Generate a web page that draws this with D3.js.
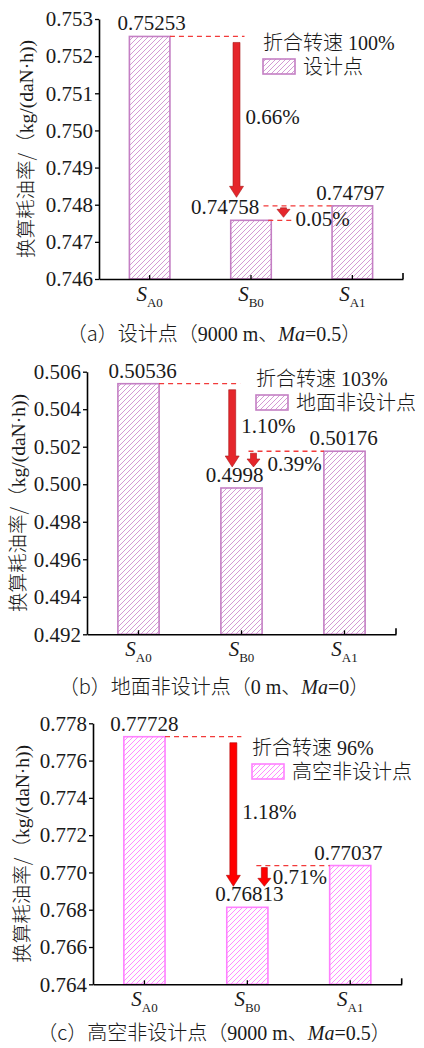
<!DOCTYPE html>
<html>
<head>
<meta charset="utf-8">
<script src="https://cdn.jsdelivr.net/npm/d3@7"></script>
<style>
  body { margin: 0; background: #fff; }
  svg text { font-family: "Liberation Serif", "Times New Roman", "DejaVu Serif", "Noto Sans CJK SC", serif; fill: #1a1a1a; }
  svg .cjk { font-family: "Noto Sans CJK SC", sans-serif; font-weight: 300; }
</style>
</head>
<body>
<script>
const categories = ['A0', 'B0', 'A1']

// panel (a) design point
const valuesA = [0.75253, 0.74758, 0.74797]
const ticksA = [0.746, 0.747, 0.748, 0.749, 0.750, 0.751, 0.752, 0.753]
const dropsA = ['0.66%', '0.05%']
const speedA = ['折合转速', ' 100%']
const legendA = '设计点'
const captionA = ['（a）设计点（', '9000 m', '、', 'Ma', '=0.5', '）']

// panel (b) ground off-design point
const valuesB = [0.50536, 0.4998, 0.50176]
const ticksB = [0.492, 0.494, 0.496, 0.498, 0.500, 0.502, 0.504, 0.506]
const dropsB = ['1.10%', '0.39%']
const speedB = ['折合转速', ' 103%']
const legendB = '地面非设计点'
const captionB = ['（b）地面非设计点（', '0 m', '、', 'Ma', '=0', '）']

// panel (c) altitude off-design point
const valuesC = [0.77728, 0.76813, 0.77037]
const ticksC = [0.764, 0.766, 0.768, 0.770, 0.772, 0.774, 0.776, 0.778]
const dropsC = ['1.18%', '0.71%']
const speedC = ['折合转速', ' 96%']
const legendC = '高空非设计点'
const captionC = ['（c）高空非设计点（', '9000 m', '、', 'Ma', '=0.5', '）']

const yTitle = ['换算耗油率/（', 'kg/(daN·h))']

const width = 424
const height = 1048

const svg = d3.select('body')
  .append('svg')
  .attr('width', width)
  .attr('height', height)

svg.append('rect').attr('width', width).attr('height', height).attr('fill', '#fff')

const defs = svg.append('defs')

function hatch (id, color) {
  const p = defs.append('pattern')
    .attr('id', id)
    .attr('patternUnits', 'userSpaceOnUse')
    .attr('width', 5)
    .attr('height', 5)
  p.append('path')
    .attr('d', 'M-1,1 l2,-2 M0,5 l5,-5 M4,6 l2,-2')
    .attr('stroke', color)
    .attr('stroke-width', 1)
}

function arrowPath (xc, y0, y1, shaftW, headW, headL) {
  const yh = y1 - headL
  return `M${xc - shaftW / 2},${y0} L${xc + shaftW / 2},${y0} L${xc + shaftW / 2},${yh} ` +
    `L${xc + headW / 2},${yh} L${xc},${y1} L${xc - headW / 2},${yh} L${xc - shaftW / 2},${yh} Z`
}

function drawPanel (values, ticks, drops, speed, legend, caption, cfg) {
  const g = svg.append('g')
  hatch(cfg.id, cfg.hatch)

  const x = d3.scaleBand()
    .domain(categories)
    .range([cfg.x0, cfg.x1])
    .paddingInner(0.6)
    .paddingOuter(0.3)

  const y = d3.scaleLinear()
    .domain([ticks[0], ticks[ticks.length - 1]])
    .range([cfg.yb, cfg.yt])

  const bw = x.bandwidth()
  const cx = c => x(c) + bw / 2

  // bars
  g.selectAll('rect.bar')
    .data(values)
    .enter()
    .append('rect')
    .attr('class', 'bar')
    .attr('x', (d, i) => x(categories[i]))
    .attr('y', d => y(d))
    .attr('width', bw)
    .attr('height', d => cfg.yb - y(d))
    .attr('fill', `url(#${cfg.id})`)
    .attr('stroke', cfg.color)
    .attr('stroke-width', 1.6)

  // axes
  const yAxis = g.append('g')
    .attr('transform', `translate(${cfg.x0},0)`)
    .call(d3.axisLeft(y).tickValues(ticks).tickFormat(d3.format('.3f')).tickSize(4).tickSizeOuter(0).tickPadding(2))
  yAxis.attr('font-family', null)
  yAxis.selectAll('text').attr('font-size', 21).attr('fill', '#1a1a1a')

  const xAxis = g.append('g')
    .attr('transform', `translate(0,${cfg.yb})`)
    .call(d3.axisBottom(x).tickSize(-4).tickSizeOuter(0).tickFormat(''))
  xAxis.append('line').attr('x1', cfg.x1).attr('x2', cfg.x1).attr('y1', 0).attr('y2', -6)
    .attr('stroke', '#000').attr('stroke-width', 1.6)

  g.selectAll('.domain').attr('stroke', '#000').attr('stroke-width', 1.6)
  g.selectAll('.tick line').attr('stroke', '#000').attr('stroke-width', 1.3)

  // category labels
  const lab = g.selectAll('text.cat')
    .data(categories)
    .enter()
    .append('text')
    .attr('class', 'cat')
    .attr('x', d => cx(d))
    .attr('y', cfg.yb + 22)
    .attr('text-anchor', 'middle')
    .attr('font-size', 21)
  lab.append('tspan').attr('font-style', 'italic').text('S')
  lab.append('tspan').attr('font-size', 13).attr('dy', 6).text(d => d)

  // value labels
  g.selectAll('text.val')
    .data(values)
    .enter()
    .append('text')
    .attr('class', 'val')
    .attr('x', (d, i) => cx(categories[i]) + cfg.labelDx[i])
    .attr('y', d => y(d) - 6)
    .attr('text-anchor', 'middle')
    .attr('font-size', 21)
    .text(d => String(d))

  // reference dashes
  const dash = (x1, x2, yy) => g.append('line')
    .attr('x1', x1).attr('x2', x2).attr('y1', yy).attr('y2', yy)
    .attr('stroke', '#f23a3a').attr('stroke-width', 1.3).attr('stroke-dasharray', '5,4')

  const bigX = cx('B0') + cfg.bigDx
  const smallX = cx('B0') + cfg.smallDx
  dash(x('A0') + bw, bigX + 8, y(values[0]))
  dash(cx('B0') + cfg.dash2Dx, x('A1'), y(values[2]))
  if (cfg.lowDash) dash(x('B0') + bw - 3, smallX + 8, y(values[1]))

  // drop arrows
  const big0 = y(values[0]) + 6
  const big1 = y(values[1]) - cfg.bigEnd
  g.append('path')
    .attr('d', arrowPath(bigX, big0, big1, 7, 14, 11))
    .attr('fill', cfg.arrow).attr('stroke', cfg.arrowEdge).attr('stroke-width', 0.6)
  const sm0 = y(values[2]) + 2
  const sm1 = y(values[1]) - cfg.smallEnd
  g.append('path')
    .attr('d', arrowPath(smallX, sm0, sm1, 6, 13, 8))
    .attr('fill', cfg.arrow).attr('stroke', cfg.arrowEdge).attr('stroke-width', 0.6)

  g.append('text')
    .attr('x', bigX + 9)
    .attr('y', (big0 + big1) / 2 - 3)
    .attr('dy', '0.35em')
    .attr('font-size', 21)
    .text(drops[0])
  g.append('text')
    .attr('x', smallX + cfg.smallPctDx)
    .attr('y', (sm0 + sm1) / 2 + cfg.smallPctDy)
    .attr('dy', '0.35em')
    .attr('font-size', 21)
    .text(drops[1])

  // legend
  const sp = g.append('text')
    .attr('x', cfg.lx)
    .attr('y', cfg.ly)
    .attr('dy', '0.35em')
    .attr('font-size', 20)
  sp.append('tspan').attr('class', 'cjk').text(speed[0])
  sp.append('tspan').text(speed[1])
  g.append('rect')
    .attr('x', cfg.lx)
    .attr('y', cfg.ly + 16)
    .attr('width', 32)
    .attr('height', 15)
    .attr('fill', `url(#${cfg.id})`)
    .attr('stroke', cfg.color)
    .attr('stroke-width', 1.6)
  g.append('text')
    .attr('class', 'cjk')
    .attr('x', cfg.lx + 40)
    .attr('y', cfg.ly + 24)
    .attr('dy', '0.35em')
    .attr('font-size', 20)
    .text(legend)

  // y title
  const yt = g.append('text')
    .attr('transform', `translate(${cfg.titleX},${(cfg.yt + cfg.yb) / 2}) rotate(-90)`)
    .attr('text-anchor', 'middle')
    .attr('dy', '0.35em')
    .attr('font-size', 19.5)
  yt.append('tspan').attr('class', 'cjk').text(yTitle[0])
  yt.append('tspan').text(yTitle[1])

  // caption
  const cap = g.append('text')
    .attr('x', 214)
    .attr('y', cfg.yb + cfg.capDy)
    .attr('dy', '0.35em')
    .attr('text-anchor', 'middle')
    .attr('font-size', 20)
  cap.append('tspan').attr('class', 'cjk').text(caption[0])
  cap.append('tspan').text(caption[1])
  cap.append('tspan').attr('class', 'cjk').text(caption[2])
  cap.append('tspan').attr('font-style', 'italic').text(caption[3])
  cap.append('tspan').text(caption[4])
  cap.append('tspan').attr('class', 'cjk').text(caption[5])
}

drawPanel(valuesA, ticksA, dropsA, speedA, legendA, captionA, {
  id: 'hatchA', x0: 99, x1: 403, yt: 19, yb: 279,
  color: '#c47fc4', hatch: '#d49ad4', arrow: '#e5262b', arrowEdge: '#a81818',
  labelDx: [2, -26, -2], bigDx: -14.5, smallDx: 32.5, dash2Dx: 12.5, lowDash: true,
  bigEnd: 23, smallEnd: 3, smallPctDx: 12, smallPctDy: 6.5,
  lx: 263, ly: 43, titleX: 26, capDy: 55
})

drawPanel(valuesB, ticksB, dropsB, speedB, legendB, captionB, {
  id: 'hatchB', x0: 87, x1: 396, yt: 371.7, yb: 634.3,
  color: '#c47fc4', hatch: '#d49ad4', arrow: '#e5262b', arrowEdge: '#a81818',
  labelDx: [4, -7, -1], bigDx: -9.3, smallDx: 12, dash2Dx: 7, lowDash: false,
  bigEnd: 21, smallEnd: 21, smallPctDx: 14, smallPctDy: 4,
  lx: 256, ly: 379, titleX: 18, capDy: 53
})

drawPanel(valuesC, ticksC, dropsC, speedC, legendC, captionC, {
  id: 'hatchC', x0: 93, x1: 401.7, yt: 723.3, yb: 984.3,
  color: '#ff80ff', hatch: '#ff8cff', arrow: '#ff0000', arrowEdge: '#b00000',
  labelDx: [0, 2, -2], bigDx: -14, smallDx: 17, dash2Dx: 9, lowDash: false,
  bigEnd: 21, smallEnd: 21, smallPctDx: 8.5, smallPctDy: 0,
  lx: 252, ly: 748, titleX: 22, capDy: 49
})
</script>
</body>
</html>
